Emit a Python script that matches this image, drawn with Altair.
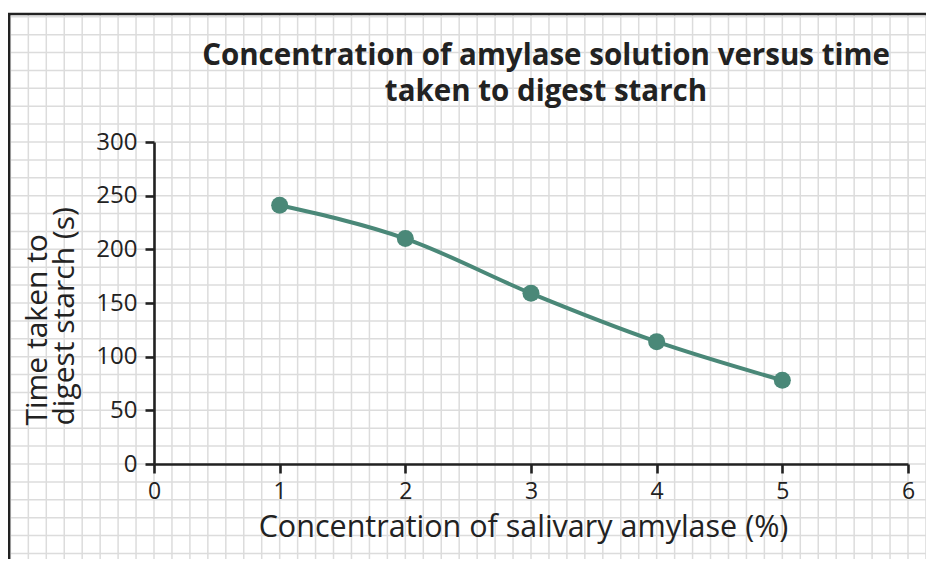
import altair as alt
import pandas as pd

# Data
concentration = [1, 2, 3, 4, 5]
time_taken = [241, 210, 159, 114, 78]

x_ticks = [0, 1, 2, 3, 4, 5, 6]
y_ticks = [0, 50, 100, 150, 200, 250, 300]

title_lines = ["Concentration of amylase solution versus time", "taken to digest starch"]
x_title = "Concentration of salivary amylase (%)"
y_title = ["Time taken to", "digest starch (s)"]

# graph-paper background: 7 squares per x unit, 3 squares per 50 s
grid_x = [k / 7 for k in range(-8, 45)]
grid_y = [j * 50 / 3 for j in range(-6, 26)]

FONT = "Open Sans"
LINE_COLOR = "#4a8878"
GRID_COLOR = "#dcdcdc"
INK = "#222222"

df = pd.DataFrame({"conc": concentration, "time": time_taken})
one = pd.DataFrame({"k": [0]})
gx = pd.DataFrame({"conc": grid_x, "time": -120.0, "time2": 419.0})
gy = pd.DataFrame({"time": grid_y, "conc": -1.165, "conc2": 6.5})

xscale = alt.Scale(domain=[0, 6], nice=False, zero=False)
yscale = alt.Scale(domain=[0, 300], nice=False, zero=False)

x_axis = alt.Axis(
    values=x_ticks,
    title=x_title,
    grid=False,
    zindex=1,
    domainColor=INK,
    domainWidth=2.6,
    tickColor=INK,
    tickWidth=2.6,
    tickSize=9,
    labelFont=FONT,
    labelFontSize=23,
    labelColor=INK,
    labelPadding=7,
    labelFlush=False,
    titleFont=FONT,
    titleFontSize=30.5,
    titleFontWeight="normal",
    titleColor=INK,
    titleBaseline="alphabetic",
    titleX=369,
    titleY=72,
)
y_axis = alt.Axis(
    values=y_ticks,
    title=y_title,
    grid=False,
    zindex=1,
    domainColor=INK,
    domainWidth=2.6,
    tickColor=INK,
    tickWidth=2.6,
    tickSize=9,
    labelFont=FONT,
    labelFontSize=24,
    labelColor=INK,
    labelPadding=8,
    labelFlush=False,
    titleFont=FONT,
    titleFontSize=30,
    titleFontWeight="normal",
    titleColor=INK,
    titleAngle=270,
    titleBaseline="alphabetic",
    titleAlign="left",
    titleLineHeight=27,
    titleX=-108,
    titleY=283,
)

X = alt.X("conc:Q", scale=xscale, axis=x_axis)
Y = alt.Y("time:Q", scale=yscale, axis=y_axis)

vlines = alt.Chart(gx).mark_rule(color=GRID_COLOR, strokeWidth=1.5).encode(
    x=X, y=Y, y2="time2:Q"
)
hlines = alt.Chart(gy).mark_rule(color=GRID_COLOR, strokeWidth=1.5).encode(
    y=Y, x=X, x2="conc2:Q"
)

frame_left = alt.Chart(one).mark_rule(color=INK, strokeWidth=2.7).encode(
    x=alt.value(-145), y=alt.value(-128), y2=alt.value(430)
)
frame_top = alt.Chart(one).mark_rule(color=INK, strokeWidth=2.7).encode(
    y=alt.value(-128), x=alt.value(-146.5), x2=alt.value(780)
)

title = alt.Chart(one).mark_text(
    font=FONT,
    fontSize=29.5,
    fontWeight="bold",
    color=INK,
    align="center",
    baseline="alphabetic",
    lineHeight=36,
).encode(
    x=alt.value(392),
    y=alt.value(-77.5),
    text=alt.value(title_lines),
)

base = alt.Chart(df).encode(x=X, y=Y)
line = base.mark_line(color=LINE_COLOR, strokeWidth=4, interpolate="monotone")
points = base.mark_circle(color=LINE_COLOR, size=290, opacity=1)

chart = (
    alt.layer(vlines, hlines, frame_left, frame_top, title, line, points)
    .properties(
        width=754,
        height=322,
        padding={"left": 146, "top": 134, "right": 18, "bottom": 95},
        autosize=alt.AutoSizeParams(type="none"),
    )
    .configure_view(strokeWidth=0)
    .configure(background="white")
)

chart.save("out.html", embed_options={"renderer": "svg", "actions": False})
